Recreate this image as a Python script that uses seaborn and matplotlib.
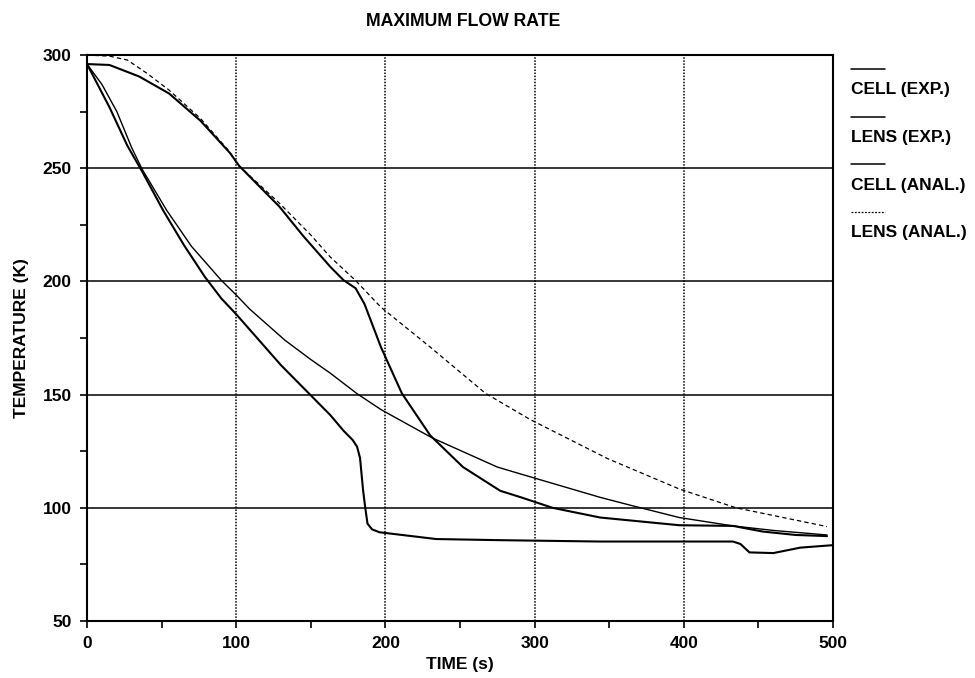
import numpy as np
import pandas as pd
import matplotlib
matplotlib.use("Agg")
import matplotlib.pyplot as plt
from matplotlib.lines import Line2D
import seaborn as sns

# ---------------- data ----------------
t_cell_exp = [0, 15, 27, 37, 51, 65, 79, 90, 100, 110, 130, 149.5, 163, 172, 178,
              181, 183, 185, 186.5, 188, 191, 196, 234, 277, 344, 433, 438, 444,
              460, 478, 500]
T_cell_exp = [296, 277, 260, 248.5, 231.4, 216, 202, 192.5, 185.5, 178, 163, 150,
              141, 134, 130, 127, 122, 108, 100, 93, 90.5, 89.2, 86.2, 85.7, 85.1,
              85.1, 84, 80.3, 80, 82.4, 83.5]

t_lens_exp = [0, 15, 35, 55, 76, 96, 102, 129, 145, 163, 172, 180, 186, 197, 211,
              230, 252, 277, 291, 312, 344, 397, 433, 453, 475, 496]
T_lens_exp = [296, 295.6, 290.5, 283, 271, 256.6, 251, 233, 220, 206.5, 200.5, 197,
              190, 171, 150.6, 132, 118, 107.5, 104.6, 100, 95.7, 92.3, 92, 89.5,
              88, 87.5]

t_cell_anal = [0, 10, 20, 30, 37, 53.4, 70, 90, 100, 109, 132.7, 150, 163, 181, 197,
               231, 275, 297, 344, 365, 397, 433, 460, 496]
T_cell_anal = [296, 287, 275, 259, 249.5, 231.4, 215.5, 200.5, 194, 187.8, 174,
               165.5, 159.5, 150.4, 143.4, 131, 118, 113.7, 104.6, 101, 95.7, 92,
               90, 88]

t_lens_anal = [0, 15, 27, 40, 55, 76, 94, 102, 129, 150, 163, 180, 197, 230, 267,
               297, 349, 397, 435, 496]
T_lens_anal = [300, 299.5, 297.8, 292, 284.5, 272, 258.5, 251, 234.5, 220.5,
               210.8, 200.4, 188.6, 171, 150.6, 139, 121.7, 108.3, 100, 91.7]

series_names = ["CELL (EXP.)", "LENS (EXP.)", "CELL (ANAL.)", "LENS (ANAL.)"]
x_ticks = [0, 100, 200, 300, 400, 500]
y_ticks = [50, 100, 150, 200, 250, 300]

# ---------------- style ----------------
sns.set_style("ticks")
plt.rcParams["font.family"] = ["Liberation Sans", "DejaVu Sans"]
plt.rcParams["font.weight"] = "bold"
plt.rcParams["axes.labelweight"] = "bold"
plt.rcParams["text.color"] = "black"
plt.rcParams["axes.labelcolor"] = "black"
plt.rcParams["xtick.color"] = "black"
plt.rcParams["ytick.color"] = "black"

fig = plt.figure(figsize=(9.75, 6.78), dpi=100)
ax = fig.add_axes([87 / 975, 1 - 621 / 678, (833 - 87) / 975, (621 - 55) / 678])

styles = [
    dict(lw=1.5, ls="-"),
    dict(lw=1.5, ls="-"),
    dict(lw=1.0, ls="-"),
    dict(lw=0.9, ls=(0, (3.5, 2.5))),
]
data = [(t_cell_exp, T_cell_exp), (t_lens_exp, T_lens_exp),
        (t_cell_anal, T_cell_anal), (t_lens_anal, T_lens_anal)]

for (tt, TT), st in zip(data, styles):
    sns.lineplot(x=tt, y=TT, ax=ax, color="black", linewidth=st["lw"],
                 linestyle=st["ls"], estimator=None, sort=False, legend=False)

ax.set_xlim(0, 500)
ax.set_ylim(50, 300)
ax.set_xticks(x_ticks)
ax.set_yticks(y_ticks)
ax.set_xticks([50, 150, 250, 350, 450], minor=True)
ax.set_yticks([75, 125, 175, 225, 275], minor=True)

ax.yaxis.grid(True, which="major", color="black", lw=1.1, ls="-")
ax.xaxis.grid(True, which="major", color="black", lw=1.1, ls=(0, (1, 1)))
ax.set_axisbelow(True)

for sp in ax.spines.values():
    sp.set_visible(True)
    sp.set_color("black")
    sp.set_linewidth(1.5)

ax.tick_params(axis="both", which="major", direction="out", length=5, width=1.2,
               labelsize=12.5, pad=6, colors="black")
ax.tick_params(axis="both", which="minor", direction="out", length=5, width=1.2,
               colors="black")
for lab in ax.get_xticklabels() + ax.get_yticklabels():
    lab.set_fontweight("bold")

ax.set_xlabel("TIME (s)", fontsize=12.5, fontweight="bold", labelpad=4,
              color="black")
ax.set_ylabel("TEMPERATURE (K)", fontsize=12.5, fontweight="bold", labelpad=10,
              color="black")
fig.text((87 + 833) / 2 / 975 + 0.003, 1 - 21 / 678, "MAXIMUM FLOW RATE",
         ha="center", va="center", fontsize=12.7, fontweight="bold", color="black")

# ---------------- legend (line above each label) ----------------
handle_y = [69, 116.7, 164.4, 212]
text_base = [94.3, 142, 189.7, 237.4]
for name, st, hy, ty in zip(series_names, styles, handle_y, text_base):
    solid = st["ls"] == "-"
    fig.add_artist(Line2D([851 / 975, 885 / 975], [1 - hy / 678, 1 - hy / 678],
                          transform=fig.transFigure, color="black",
                          lw=1.1 if solid else 0.9,
                          ls="-" if solid else (0, (1.5, 1.2))))
    fig.text(851 / 975, 1 - ty / 678, name, ha="left", va="baseline",
             fontsize=12.5, fontweight="bold", color="black")

fig.savefig("out.png", dpi=100)
